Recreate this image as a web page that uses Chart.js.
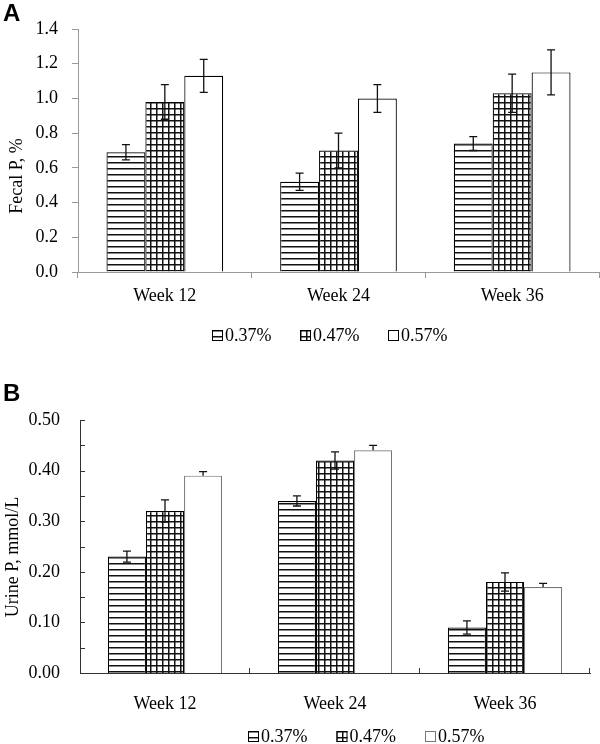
<!DOCTYPE html>
<html>
<head>
<meta charset="utf-8">
<script src="https://cdn.jsdelivr.net/npm/chart.js@4.4.1/dist/chart.umd.min.js"></script>
<style>
  body { margin: 0; background: #fff; }
  #wrap { position: relative; width: 600px; height: 744px; overflow: hidden; }
  canvas { position: absolute; left: 0; }
  #cA { top: 0; }
  #cB { top: 365px; }
  .panel { position: absolute; left: 3px; font: bold 24px "Liberation Sans", Arial, sans-serif; line-height: 1; }
</style>
</head>
<body>
<div id="wrap">
  <canvas id="cA" width="600" height="365"></canvas>
  <canvas id="cB" width="600" height="379"></canvas>
  <div class="panel" style="top:1px">A</div>
  <div class="panel" style="top:381px">B</div>
</div>
<script>
// categories and series
const weeks = ['Week 12', 'Week 24', 'Week 36'];
const levels = ['0.37%', '0.47%', '0.57%'];

// panel A, fecal P (%)
const fecal37 = [0.69, 0.52, 0.74];
const fecal47 = [0.98, 0.70, 1.03];
const fecal57 = [1.13, 1.00, 1.15];
const fecalErr37 = [0.044, 0.05, 0.04];
const fecalErr47 = [0.10, 0.10, 0.11];
const fecalErr57 = [0.095, 0.08, 0.13];

// panel B, urine P (mmol/L)
const urine37 = [0.23, 0.34, 0.09];
const urine47 = [0.32, 0.42, 0.18];
const urine57 = [0.39, 0.44, 0.17];
const urineErrUp37 = [0.011, 0.010, 0.013];
const urineErrUp47 = [0.022, 0.017, 0.018];
const urineErrUp57 = [0.008, 0.010, 0.007];
const urineErrDown37 = [0.011, 0.010, 0.013];
const urineErrDown47 = [0.022, 0.017, 0.018];
const urineErrDown57 = [0, 0, 0];

const serif = '"Liberation Serif", "Times New Roman", serif';
Chart.defaults.font.family = serif;
Chart.defaults.font.size = 18;
Chart.defaults.color = '#000';

function makeHatch(kind) {
    const c = document.createElement('canvas');
    c.width = 6;
    c.height = 6;
    const g = c.getContext('2d');
    g.fillStyle = '#fff';
    g.fillRect(0, 0, 6, 6);
    g.fillStyle = '#111';
    g.fillRect(0, 0, 6, 1.5);
    if (kind === 'grid') {
        g.fillRect(0, 0, 1.5, 6);
    }
    return g.createPattern(c, 'repeat');
}
const hatchLines = makeHatch('lines');
const hatchGrid = makeHatch('grid');

const errorBars = {
    id: 'errorBars',
    afterDatasetsDraw(chart) {
        const ctx = chart.ctx;
        const y = chart.scales.y;
        chart.data.datasets.forEach((ds, d) => {
            const meta = chart.getDatasetMeta(d);
            meta.data.forEach((bar, i) => {
                const v = ds.data[i];
                const top = y.getPixelForValue(v + ds.errUp[i]);
                const bot = y.getPixelForValue(v - ds.errDown[i]);
                ctx.save();
                ctx.strokeStyle = '#111';
                ctx.lineWidth = 1.3;
                ctx.beginPath();
                ctx.moveTo(bar.x, top);
                ctx.lineTo(bar.x, bot);
                ctx.moveTo(bar.x - 4, top);
                ctx.lineTo(bar.x + 4, top);
                if (ds.errDown[i] > 0) {
                    ctx.moveTo(bar.x - 4, bot);
                    ctx.lineTo(bar.x + 4, bot);
                }
                ctx.stroke();
                ctx.restore();
            });
        });
    }
};

const boxLegend = {
    id: 'boxLegend',
    afterDraw(chart, args, opts) {
        const ctx = chart.ctx;
        ctx.save();
        ctx.font = '18px ' + serif;
        ctx.textBaseline = 'middle';
        chart.data.datasets.forEach((ds, i) => {
            const x = opts.x + i * opts.step;
            ctx.fillStyle = ds.backgroundColor;
            ctx.fillRect(x, opts.y - 5, 11, 11);
            ctx.strokeStyle = ds.borderColor;
            ctx.lineWidth = 1;
            ctx.strokeRect(x + 0.5, opts.y - 4.5, 10, 10);
            ctx.fillStyle = '#000';
            ctx.fillText(ds.label, x + 13, opts.y + 1);
        });
        ctx.restore();
    }
};

// rotated y-axis title, placed where the original has it
const sideTitle = {
    id: 'sideTitle',
    afterDraw(chart, args, opts) {
        const ctx = chart.ctx;
        ctx.save();
        ctx.translate(opts.x, opts.y);
        ctx.rotate(-Math.PI / 2);
        ctx.font = '18px ' + serif;
        ctx.fillStyle = '#000';
        ctx.textAlign = 'center';
        ctx.textBaseline = 'middle';
        ctx.fillText(opts.text, 0, 0);
        ctx.restore();
    }
};

const innerTicks = {
    id: 'innerTicks',
    afterDraw(chart, args, opts) {
        const ctx = chart.ctx;
        const x = chart.scales.x;
        const y = chart.scales.y;
        const a = chart.chartArea;
        ctx.save();
        ctx.strokeStyle = opts.color;
        ctx.lineWidth = 1;
        ctx.beginPath();
        y.ticks.forEach((t, i) => {
            const py = Math.round(y.getPixelForTick(i)) + 0.5;
            ctx.moveTo(a.left, py);
            ctx.lineTo(a.left + opts.len, py);
        });
        const n = x.ticks.length;
        for (let i = 1; i <= n; i++) {
            let px = i < n ? (x.getPixelForTick(i - 1) + x.getPixelForTick(i)) / 2 : a.right;
            px = Math.round(px) - 0.5;
            ctx.moveTo(px, a.bottom);
            ctx.lineTo(px, a.bottom - opts.len);
        }
        ctx.stroke();
        ctx.restore();
    }
};

function makeSets(values, ups, downs, whiteBorder) {
    const fills = [hatchLines, hatchGrid, '#fff'];
    const borders = ['#000', '#000', whiteBorder];
    return levels.map((lab, i) => ({
        label: lab,
        data: values[i],
        errUp: ups[i],
        errDown: downs[i],
        backgroundColor: fills[i],
        borderColor: borders[i],
        borderWidth: 1.2,
        categoryPercentage: 0.672,
        barPercentage: 1
    }));
}

new Chart(document.getElementById('cA'), {
    type: 'bar',
    data: {
        labels: weeks,
        datasets: makeSets([fecal37, fecal47, fecal57],
            [fecalErr37, fecalErr47, fecalErr57],
            [fecalErr37, fecalErr47, fecalErr57], '#000')
    },
    options: {
        responsive: false,
        animation: false,
        layout: { padding: { left: 0, right: 1, top: 29, bottom: 53 } },
        plugins: {
            legend: { display: false },
            tooltip: { enabled: false },
            boxLegend: { x: 212, y: 335, step: 88 },
            sideTitle: { text: 'Fecal P, %', x: 17, y: 176 }
        },
        scales: {
            x: {
                afterFit: (s) => { s.height = 40; },
                grid: { drawOnChartArea: false, tickLength: 6, color: '#999' },
                border: { color: '#999' },
                ticks: { padding: 7 }
            },
            y: {
                min: 0,
                max: 1.4,
                afterFit: (s) => { s.width = 78; },
                grid: { drawOnChartArea: false, tickLength: 6, color: '#999' },
                border: { color: '#999' },
                ticks: { stepSize: 0.2, padding: 14, callback: (v) => v.toFixed(1) }
            }
        }
    },
    plugins: [errorBars, boxLegend, sideTitle]
});

new Chart(document.getElementById('cB'), {
    type: 'bar',
    data: {
        labels: weeks,
        datasets: makeSets([urine37, urine47, urine57],
            [urineErrUp37, urineErrUp47, urineErrUp57],
            [urineErrDown37, urineErrDown47, urineErrDown57], '#777')
    },
    options: {
        responsive: false,
        animation: false,
        layout: { padding: { left: 0, right: 10, top: 55, bottom: 31 } },
        plugins: {
            legend: { display: false },
            tooltip: { enabled: false },
            boxLegend: { x: 248, y: 371, step: 88.5 },
            innerTicks: { len: 5, color: '#333' },
            sideTitle: { text: 'Urine P, mmol/L', x: 13, y: 192 }
        },
        scales: {
            x: {
                afterFit: (s) => { s.height = 40; },
                grid: { display: false, drawTicks: false },
                border: { display: true, color: '#333' },
                ticks: { padding: 20 }
            },
            y: {
                min: 0,
                max: 0.5,
                afterFit: (s) => { s.width = 80; },
                grid: { display: false, drawTicks: false },
                border: { display: true, color: '#333' },
                ticks: {
                    stepSize: 0.05,
                    autoSkip: false,
                    padding: 20,
                    callback: (v) => (Math.round(v * 100) % 10 === 0 ? v.toFixed(2) : '')
                }
            }
        }
    },
    plugins: [errorBars, boxLegend, innerTicks, sideTitle]
});
</script>
</body>
</html>
